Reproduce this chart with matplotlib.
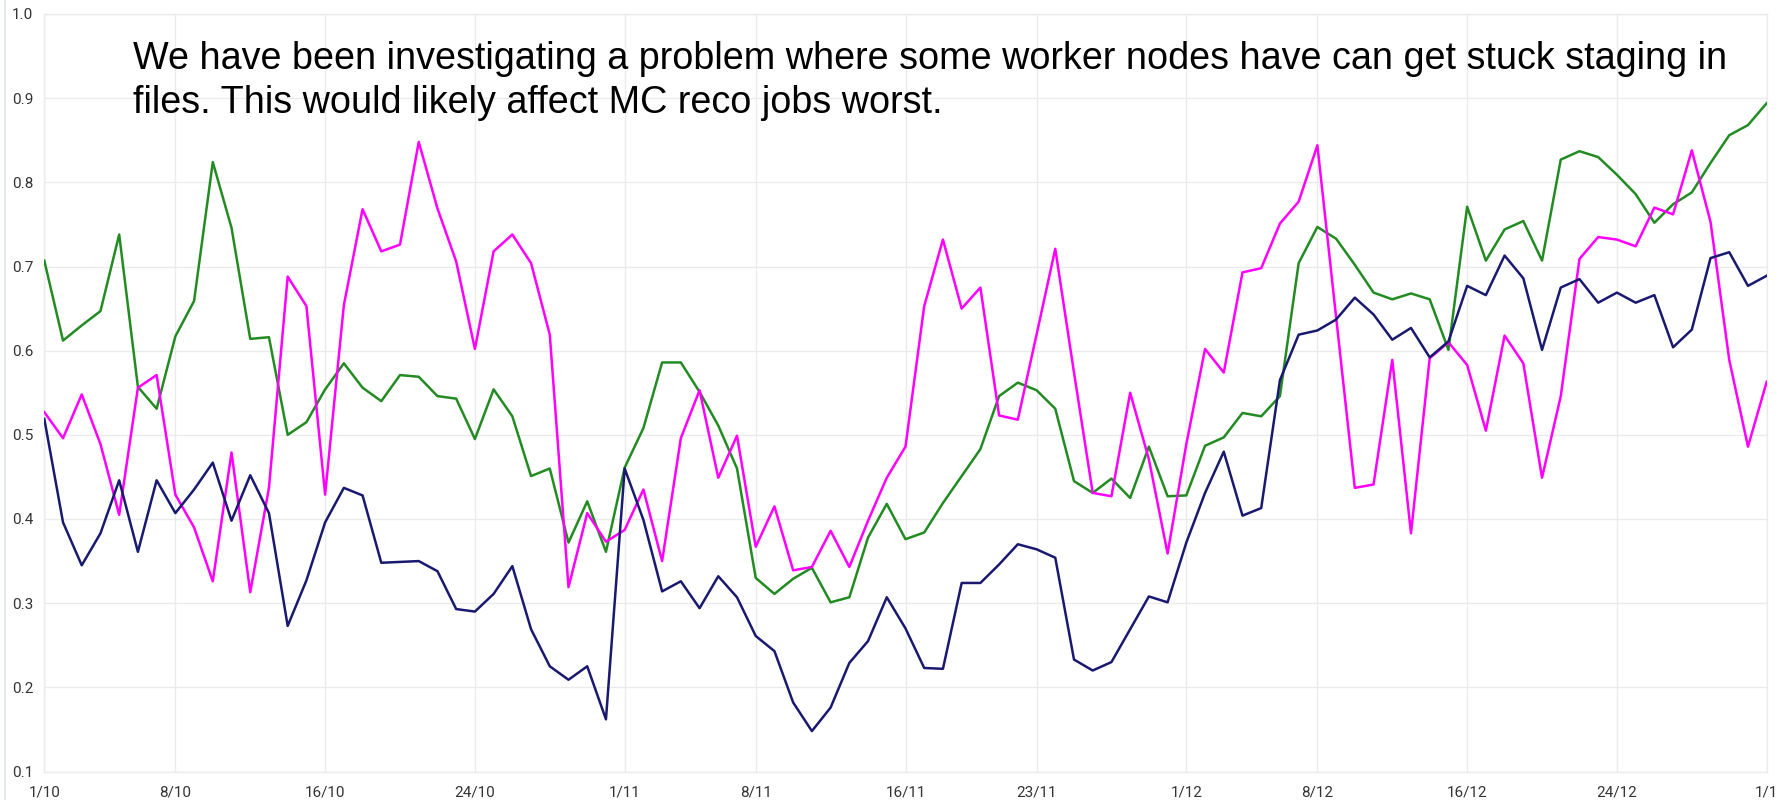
import matplotlib
matplotlib.use("Agg")
import matplotlib.pyplot as plt
from matplotlib.lines import Line2D
import pandas as pd

# ---------------- data ----------------
start_date = "2023-10-01"
tick_labels = ["1/10", "8/10", "16/10", "24/10", "1/11", "8/11", "16/11",
               "23/11", "1/12", "8/12", "16/12", "24/12", "1/1"]
y_ticks = [0.1, 0.2, 0.3, 0.4, 0.5, 0.6, 0.7, 0.8, 0.9, 1.0]

green = [0.707, 0.612, 0.630, 0.647, 0.738, 0.557, 0.531, 0.617, 0.659, 0.824,
         0.746, 0.614, 0.616, 0.500, 0.515, 0.554, 0.585, 0.556, 0.540, 0.571,
         0.569, 0.546, 0.543, 0.495, 0.554, 0.522, 0.451, 0.460, 0.372, 0.421,
         0.361, 0.461, 0.508, 0.586, 0.586, 0.551, 0.511, 0.460, 0.330, 0.311,
         0.329, 0.342, 0.301, 0.307, 0.378, 0.418, 0.376, 0.384, 0.419, 0.451,
         0.483, 0.546, 0.562, 0.553, 0.531, 0.445, 0.431, 0.448, 0.425, 0.486,
         0.427, 0.428, 0.487, 0.497, 0.526, 0.522, 0.546, 0.704, 0.747, 0.733,
         0.702, 0.669, 0.661, 0.668, 0.661, 0.601, 0.771, 0.707, 0.744, 0.754,
         0.707, 0.827, 0.837, 0.830, 0.809, 0.786, 0.752, 0.774, 0.788, 0.823,
         0.856, 0.868, 0.894]

magenta = [0.527, 0.496, 0.548, 0.489, 0.405, 0.556, 0.571, 0.429, 0.390, 0.326,
           0.479, 0.313, 0.437, 0.688, 0.653, 0.429, 0.654, 0.768, 0.718, 0.726,
           0.848, 0.769, 0.706, 0.602, 0.718, 0.738, 0.704, 0.619, 0.319, 0.407,
           0.373, 0.387, 0.435, 0.350, 0.496, 0.553, 0.449, 0.499, 0.367, 0.415,
           0.339, 0.343, 0.386, 0.343, 0.398, 0.449, 0.486, 0.653, 0.732, 0.650,
           0.675, 0.523, 0.518, 0.619, 0.721, 0.574, 0.431, 0.427, 0.550, 0.471,
           0.359, 0.489, 0.602, 0.574, 0.693, 0.698, 0.751, 0.777, 0.844, 0.640,
           0.437, 0.441, 0.589, 0.383, 0.591, 0.610, 0.583, 0.505, 0.618, 0.585,
           0.449, 0.546, 0.709, 0.735, 0.732, 0.724, 0.770, 0.762, 0.838, 0.753,
           0.589, 0.486, 0.563]

navy = [0.519, 0.396, 0.345, 0.383, 0.446, 0.361, 0.446, 0.407, 0.435, 0.467,
        0.398, 0.452, 0.407, 0.273, 0.327, 0.396, 0.437, 0.428, 0.348, 0.349,
        0.350, 0.338, 0.293, 0.290, 0.311, 0.344, 0.269, 0.225, 0.209, 0.225,
        0.162, 0.460, 0.399, 0.314, 0.326, 0.294, 0.332, 0.307, 0.261, 0.243,
        0.182, 0.148, 0.176, 0.229, 0.255, 0.307, 0.270, 0.223, 0.222, 0.324,
        0.324, 0.346, 0.370, 0.364, 0.354, 0.233, 0.220, 0.230, 0.269, 0.308,
        0.301, 0.372, 0.431, 0.480, 0.404, 0.413, 0.565, 0.619, 0.624, 0.637,
        0.663, 0.643, 0.613, 0.627, 0.592, 0.611, 0.677, 0.666, 0.713, 0.686,
        0.601, 0.675, 0.685, 0.657, 0.669, 0.657, 0.666, 0.604, 0.625, 0.710,
        0.717, 0.677, 0.689]

annotation_lines = [
    "We have been investigating a problem where some worker nodes have can get stuck staging in",
    "files. This would likely affect MC reco jobs worst.",
]

# ---------------- figure ----------------
W, H = 1787, 800
fig = plt.figure(figsize=(W / 100, H / 100), dpi=100)
fig.patch.set_facecolor("white")

left_px, right_px, top_px, bottom_px = 44.3, 1766.7, 14.0, 771.5
ax = fig.add_axes([left_px / W, 1 - bottom_px / H,
                   (right_px - left_px) / W, (bottom_px - top_px) / H])

dates = pd.date_range(start_date, periods=len(green), freq="D")
grid_c = "#ebebeb"

ax.plot(dates, green, color="#228b22", lw=1.8, zorder=3)
ax.plot(dates, magenta, color="#ff00ff", lw=1.8, zorder=4)
ax.plot(dates, navy, color="#191970", lw=1.8, zorder=5)

# tick positions from the label strings
tick_dates = []
year = dates[0].year
prev_month = dates[0].month
for lab in tick_labels:
    d, m = (int(v) for v in lab.split("/"))
    if m < prev_month:
        year += 1
    prev_month = m
    tick_dates.append(pd.Timestamp(year=year, month=m, day=d))

ax.set_xlim(dates[0], dates[-1])
ax.set_ylim(0.1, 1.0)
ax.set_xticks(tick_dates)
ax.set_xticklabels(tick_labels)
ax.set_yticks(y_ticks)
ax.set_yticklabels([f"{v:.1f}" for v in y_ticks])

ax.grid(True, color=grid_c, lw=1.0, zorder=0)
for s in ax.spines.values():
    s.set_color(grid_c)
    s.set_linewidth(1.0)
ax.tick_params(length=0, labelsize=11, labelcolor="#333333")
ax.tick_params(axis="y", pad=8)
ax.tick_params(axis="x", pad=10)
for lab in ax.get_xticklabels() + ax.get_yticklabels():
    lab.set_fontfamily("Roboto")

# faint panel border on the left
fig.add_artist(Line2D([5 / W, 5 / W], [0, 1], transform=fig.transFigure,
                      color="#dfe3e8", lw=1.2))

# annotation text
text_x = 133 / W
baselines = [69.3, 112.7]
for line, b in zip(annotation_lines, baselines):
    fig.text(text_x, 1 - b / H, line, fontsize=27.2, family="Liberation Sans",
             color="black", va="baseline", ha="left", zorder=10)

fig.savefig("out.png", dpi=100, facecolor="white")
